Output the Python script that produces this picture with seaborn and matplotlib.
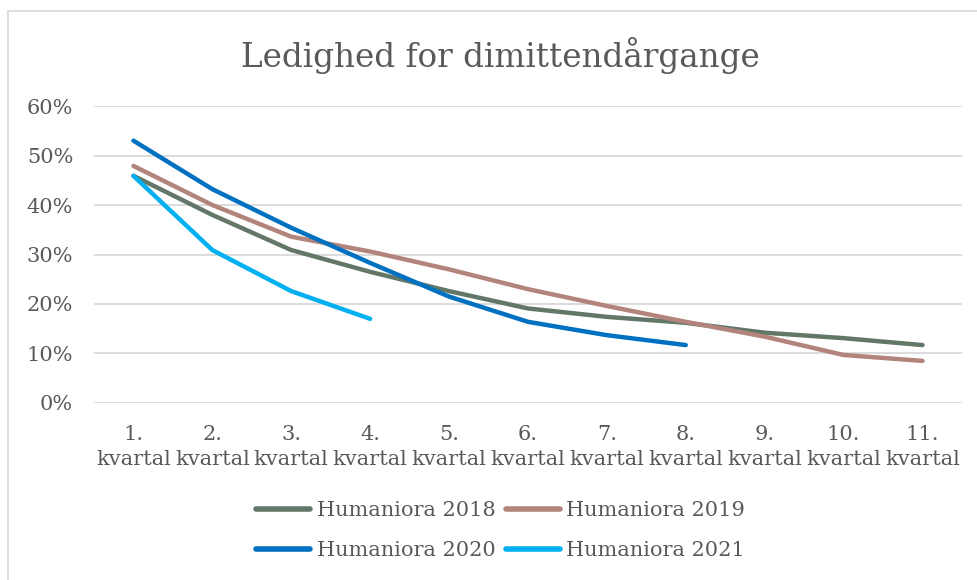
import numpy as np
import pandas as pd
import seaborn as sns
import matplotlib.pyplot as plt
from matplotlib.patches import Rectangle

# data (ledighed i %)
kvartaler = ["1.\nkvartal", "2.\nkvartal", "3.\nkvartal", "4.\nkvartal", "5.\nkvartal",
             "6.\nkvartal", "7.\nkvartal", "8.\nkvartal", "9.\nkvartal", "10.\nkvartal",
             "11.\nkvartal"]
hum_2018 = [45.9, 38.0, 30.9, 26.5, 22.6, 19.1, 17.4, 16.2, 14.2, 13.1, 11.7]
hum_2019 = [47.9, 40.0, 33.6, 30.6, 27.0, 23.0, 19.6, 16.4, 13.4, 9.7, 8.5]
hum_2020 = [53.0, 43.2, 35.4, 28.3, 21.5, 16.4, 13.7, 11.7]
hum_2021 = [45.9, 30.9, 22.6, 17.0]
serier = ["Humaniora 2018", "Humaniora 2019", "Humaniora 2020", "Humaniora 2021"]
farver = ["#637769", "#B3847B", "#0070C0", "#00B0F0"]

rows = []
for navn, vals in zip(serier, [hum_2018, hum_2019, hum_2020, hum_2021]):
    for i, v in enumerate(vals):
        rows.append({"kvartal": i, "ledighed": v / 100, "serie": navn})
df = pd.DataFrame(rows)

sns.set_style("white")
plt.rcParams['font.family'] = ['DejaVu Serif']
grey = "#595959"

fig = plt.figure(figsize=(9.78, 5.8), dpi=100)
ax = fig.add_axes([0.0961, 0.3052, 0.8875, 0.512])

sns.lineplot(data=df, x="kvartal", y="ledighed", hue="serie", hue_order=serier,
             palette=farver, linewidth=3.2, solid_capstyle="round", ax=ax, legend=False)

ax.set_xlim(-0.5, len(kvartaler) - 0.5)
ax.set_ylim(0, 0.6)
ax.set_yticks(np.arange(0, 0.61, 0.1))
ax.set_yticklabels([f"{int(round(t*100))}%" for t in np.arange(0, 0.61, 0.1)])
ax.set_xticks(range(len(kvartaler)))
ax.set_xticklabels(kvartaler, linespacing=1.4)
ax.tick_params(axis="both", length=0, colors=grey, labelsize=15)
ax.tick_params(axis="x", pad=16)
ax.tick_params(axis="y", pad=15)
ax.grid(axis="y", color="#D9D9D9", linewidth=1.3)
ax.set_axisbelow(True)
for s in ax.spines.values():
    s.set_visible(False)
ax.set_xlabel("")
ax.set_ylabel("")

fig.text(0.512, 0.905, "Ledighed for dimittendårgange", ha="center", va="center",
         fontsize=23.5, color=grey)

handles = [plt.Line2D([], [], color=c, linewidth=4, solid_capstyle="round") for c in farver]
order = [0, 2, 1, 3]
fig.legend([handles[i] for i in order], [serier[i] for i in order],
           loc="center", bbox_to_anchor=(0.512, 0.085), ncol=2, frameon=False,
           fontsize=15, labelcolor=grey, handlelength=2.6, handletextpad=0.3,
           columnspacing=0.5, labelspacing=1.0)

fig.patches.append(Rectangle((8 / 978, -0.1), 1.2, 1 - 11 / 580 + 0.1,
                             transform=fig.transFigure, fill=False,
                             edgecolor="#D9D9D9", linewidth=1.2))

fig.savefig("out.png", dpi=100, facecolor="white")
